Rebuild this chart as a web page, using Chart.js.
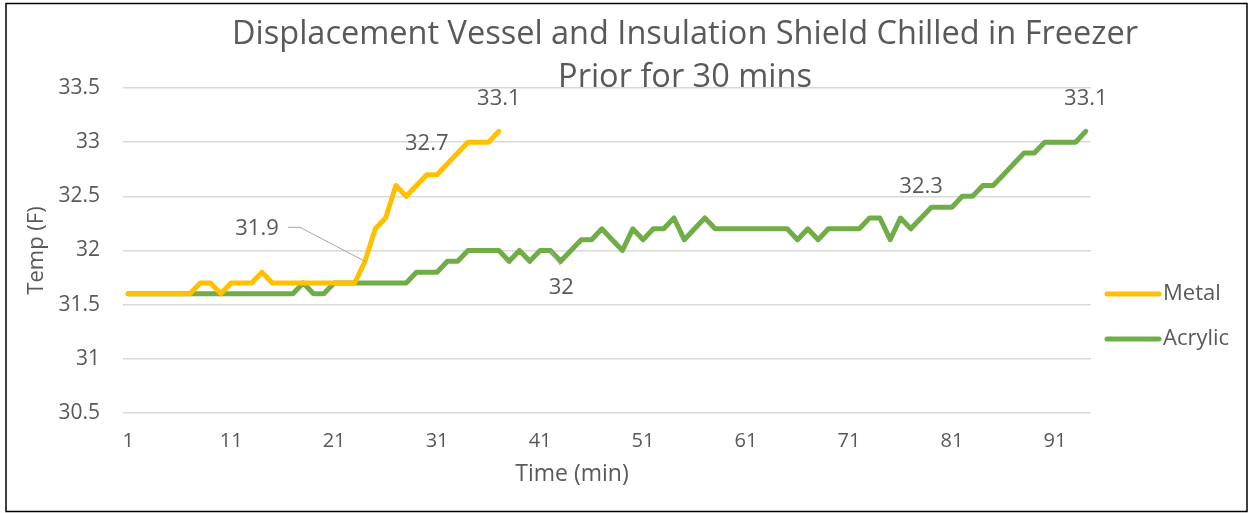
<!DOCTYPE html>
<html>
<head>
<meta charset="utf-8">
<script src="https://cdn.jsdelivr.net/npm/chart.js@4/dist/chart.umd.min.js"></script>
<style>
  html, body { margin: 0; padding: 0; background: #fff; }
  #wrap { width: 1252px; height: 513px; position: relative; }
</style>
</head>
<body>
<div id="wrap"><canvas id="c" width="1252" height="513"></canvas></div>
<script>
// ---- data ----
const minutes = Array.from({length: 94}, (_, i) => String(i + 1));
const metal = [
  31.6, 31.6, 31.6, 31.6, 31.6, 31.6, 31.6, 31.7, 31.7, 31.6,
  31.7, 31.7, 31.7, 31.8, 31.7, 31.7, 31.7, 31.7, 31.7, 31.7,
  31.7, 31.7, 31.7, 31.9, 32.2, 32.3, 32.6, 32.5, 32.6, 32.7,
  32.7, 32.8, 32.9, 33.0, 33.0, 33.0, 33.1
];
const acrylic = [
  31.6, 31.6, 31.6, 31.6, 31.6, 31.6, 31.6, 31.6, 31.6, 31.6,
  31.6, 31.6, 31.6, 31.6, 31.6, 31.6, 31.6, 31.7, 31.6, 31.6,
  31.7, 31.7, 31.7, 31.7, 31.7, 31.7, 31.7, 31.7, 31.8, 31.8,
  31.8, 31.9, 31.9, 32.0, 32.0, 32.0, 32.0, 31.9, 32.0, 31.9,
  32.0, 32.0, 31.9, 32.0, 32.1, 32.1, 32.2, 32.1, 32.0, 32.2,
  32.1, 32.2, 32.2, 32.3, 32.1, 32.2, 32.3, 32.2, 32.2, 32.2,
  32.2, 32.2, 32.2, 32.2, 32.2, 32.1, 32.2, 32.1, 32.2, 32.2,
  32.2, 32.2, 32.3, 32.3, 32.1, 32.3, 32.2, 32.3, 32.4, 32.4,
  32.4, 32.5, 32.5, 32.6, 32.6, 32.7, 32.8, 32.9, 32.9, 33.0,
  33.0, 33.0, 33.0, 33.1
];
const yTicks = [30.5, 31, 31.5, 32, 32.5, 33, 33.5];
const titleLines = ["Displacement Vessel and Insulation Shield Chilled in Freezer", "Prior for 30 mins"];
const xTitle = "Time (min)";
// data labels: [datasetIndex, pointIndex]
const labelPoints = [[0, 23], [0, 29], [0, 36], [1, 41], [1, 77], [1, 93]];

const FONT = "'Open Sans', Lato, sans-serif";
const TXT = '#595959';

const labelsPlugin = {
  id: 'extras',
  afterDraw(chart) {
    const ctx = chart.ctx;
    const xs = chart.scales.x, ys = chart.scales.y;
    ctx.save();
    // border
    ctx.strokeStyle = '#000';
    ctx.lineWidth = 1.5;
    ctx.strokeRect(6, 3.5, 1241, 508);
    // title
    ctx.fillStyle = TXT;
    ctx.font = "32.5px " + FONT;
    ctx.textAlign = 'center';
    ctx.textBaseline = 'middle';
    ctx.fillText(titleLines[0], 685, 35);
    ctx.fillText(titleLines[1], 685, 78);
    // x axis title
    ctx.font = "23px " + FONT;
    ctx.fillText(xTitle, 572, 474);
    // data labels
    ctx.font = "22px " + FONT;
    const offs = {
      '0-23': [-108, -33, true], '0-29': [0, -31], '0-36': [0, -33],
      '1-41': [11, 37, true], '1-77': [0, -31], '1-93': [0, -33]
    };
    const sets = [metal, acrylic];
    labelPoints.forEach(([d, i]) => {
      const v = sets[d][i];
      const px = xs.getPixelForValue(i), py = ys.getPixelForValue(v);
      const o = offs[d + '-' + i];
      const lx = px + o[0], ly = py + o[1];
      if (o[2]) {
        ctx.strokeStyle = '#a6a6a6';
        ctx.lineWidth = 1;
        ctx.beginPath();
        if (d === 0) {
          ctx.moveTo(lx + 31, ly - 1);
          ctx.lineTo(lx + 43, ly - 1);
          ctx.lineTo(px, py);
        } else {
          ctx.moveTo(px, py);
          ctx.lineTo(px + 10, py + 15);
        }
        ctx.stroke();
      }
      ctx.fillStyle = TXT;
      ctx.fillText(String(v), lx, ly);
    });
    // legend
    const leg = [['Metal', '#FFC000', 294], ['Acrylic', '#70AD47', 339]];
    ctx.textAlign = 'left';
    ctx.font = "22px " + FONT;
    leg.forEach(([t, c, y]) => {
      ctx.strokeStyle = c;
      ctx.lineWidth = 5;
      ctx.lineCap = 'round';
      ctx.beginPath();
      ctx.moveTo(1107, y);
      ctx.lineTo(1159, y);
      ctx.stroke();
      ctx.fillStyle = TXT;
      ctx.fillText(t, 1163, y);
    });
    ctx.restore();
  }
};

new Chart(document.getElementById('c'), {
  type: 'line',
  data: {
    labels: minutes,
    datasets: [
      { label: 'Metal', data: metal, borderColor: '#FFC000', backgroundColor: '#FFC000',
        borderWidth: 5, pointRadius: 0, tension: 0, borderJoinStyle: 'round', borderCapStyle: 'round' },
      { label: 'Acrylic', data: acrylic, borderColor: '#70AD47', backgroundColor: '#70AD47',
        borderWidth: 5, pointRadius: 0, tension: 0, borderJoinStyle: 'round', borderCapStyle: 'round' }
    ]
  },
  options: {
    responsive: false,
    animation: false,
    events: [],
    layout: { padding: { left: 0, top: 88, right: 161, bottom: 0 } },
    plugins: { legend: { display: false }, title: { display: false }, tooltip: { enabled: false } },
    scales: {
      x: {
        offset: true,
        grid: { display: false, drawTicks: false },
        border: { display: false },
        ticks: {
          autoSkip: false, maxRotation: 0, padding: 16,
          color: TXT, font: { family: FONT, size: 20 },
          callback: function(v, i) { return i % 10 === 0 ? minutes[i] : ''; }
        },
        title: { display: false },
        afterFit: s => { s.height = 100; }
      },
      y: {
        min: 30.5, max: 33.5,
        afterBuildTicks: s => { s.ticks = yTicks.map(v => ({ value: v })); },
        grid: { color: '#d9d9d9', lineWidth: 1.5, drawTicks: false },
        border: { display: false },
        ticks: { padding: 23, color: TXT, font: { family: FONT, size: 21 }, callback: v => String(v) },
        title: { display: true, text: 'Temp (F)', color: TXT, font: { family: FONT, size: 22 }, padding: { top: 24 } },
        afterFit: s => { s.width = 123; }
      }
    }
  },
  plugins: [labelsPlugin]
});
</script>
</body>
</html>
